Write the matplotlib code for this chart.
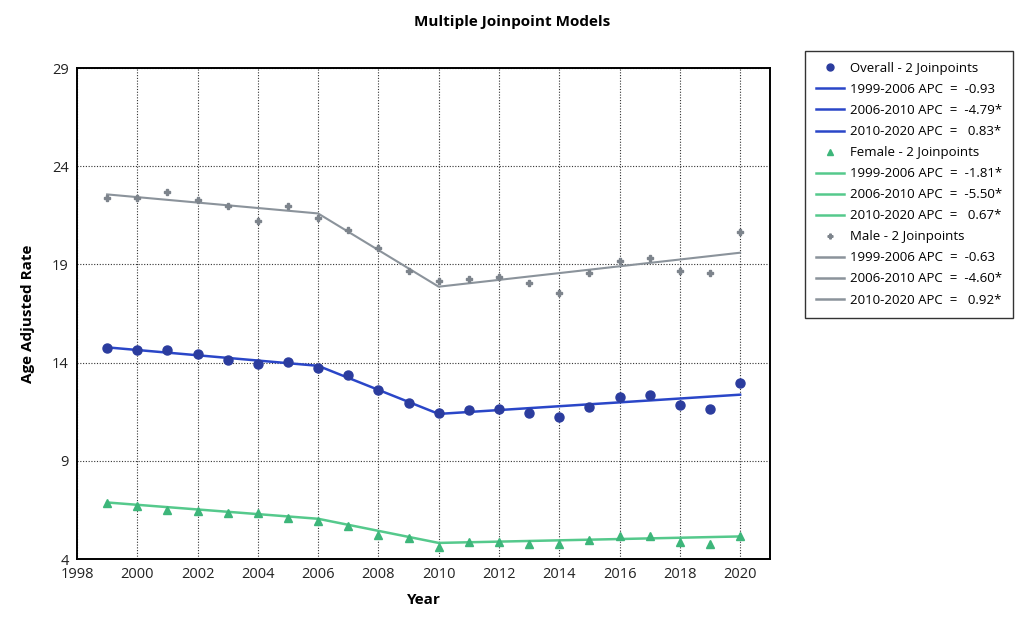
import matplotlib
matplotlib.use("Agg")
import matplotlib.pyplot as plt
from matplotlib.lines import Line2D

plt.rcParams["font.family"] = ["Open Sans", "DejaVu Sans"]

years = list(range(1999, 2021))

overall = [14.75, 14.63, 14.63, 14.43, 14.12, 13.95, 14.04, 13.73, 13.36, 12.63, 11.95,
           11.44, 11.61, 11.63, 11.44, 11.24, 11.73, 12.24, 12.34, 11.83, 11.63, 12.94]
female = [6.86, 6.70, 6.49, 6.46, 6.36, 6.32, 6.07, 5.95, 5.68, 5.22, 5.05,
          4.63, 4.88, 4.85, 4.76, 4.76, 4.97, 5.19, 5.19, 4.88, 4.76, 5.17]
male = [22.38, 22.38, 22.67, 22.26, 21.97, 21.24, 21.99, 21.38, 20.77, 19.85, 18.66,
        18.14, 18.26, 18.34, 18.05, 17.55, 18.56, 19.16, 19.35, 18.66, 18.56, 20.65]

# fitted values at the segment ends (joinpoints 2006 and 2010)
joint_years = [1999, 2006, 2010, 2020]
overall_fit = [14.78, 13.84, 11.39, 12.37]
female_fit = [6.88, 6.05, 4.82, 5.15]
male_fit = [22.57, 21.60, 17.87, 19.60]

segments = ["1999-2006", "2006-2010", "2010-2020"]
overall_apc = ["-0.93", "-4.79*", " 0.83*"]
female_apc = ["-1.81*", "-5.50*", " 0.67*"]
male_apc = ["-0.63", "-4.60*", " 0.92*"]

blue_pt, blue_ln = "#2b3c9e", "#2a46c8"
green_pt, green_ln = "#3db67a", "#55c98c"
gray_pt, gray_ln = "#7d848c", "#8b939b"

fig = plt.figure(figsize=(10.18, 6.19), dpi=100)
ax = fig.add_axes([0.0756, 0.0969, 0.681, 0.793])

ax.plot(joint_years, male_fit, color=gray_ln, lw=1.5, zorder=3)
ax.plot(years, male, ls="none", marker="P", ms=4.5, color=gray_pt, zorder=4)
ax.plot(joint_years, overall_fit, color=blue_ln, lw=1.8, zorder=3)
ax.plot(years, overall, ls="none", marker="o", ms=6.5, color=blue_pt, zorder=4)
ax.plot(joint_years, female_fit, color=green_ln, lw=1.8, zorder=3)
ax.plot(years, female, ls="none", marker="^", ms=6, color=green_pt, zorder=4)

ax.set_xlim(1998, 2021)
ax.set_ylim(4, 29)
ax.set_xticks(range(1998, 2021, 2))
ax.set_yticks([4, 9, 14, 19, 24, 29])
ax.tick_params(length=0, labelsize=10.5, colors="#222222", pad=6)
ax.grid(True, ls=(0, (1, 1.5)), color="#333333", lw=0.8)
for s in ax.spines.values():
    s.set_linewidth(1.4)
    s.set_color("black")

ax.set_xlabel("Year", fontsize=11, fontweight="bold", labelpad=8)
ax.set_ylabel("Age Adjusted Rate", fontsize=11, fontweight="bold", labelpad=12)
fig.suptitle("Multiple Joinpoint Models", x=0.503, y=0.975, fontsize=11, fontweight="bold")

handles, labels = [], []
for name, pc, lc, mk, ms, apc in [
    ("Overall", blue_pt, blue_ln, "o", 5, overall_apc),
    ("Female", green_pt, green_ln, "^", 5, female_apc),
    ("Male", gray_pt, gray_ln, "P", 3.5, male_apc),
]:
    handles.append(Line2D([], [], ls="none", marker=mk, ms=ms, color=pc))
    labels.append(f"{name} - 2 Joinpoints")
    for seg, v in zip(segments, apc):
        handles.append(Line2D([], [], color=lc, lw=1.8))
        labels.append(f"{seg} APC  =  {v}")

leg = fig.legend(handles, labels, loc="upper left", bbox_to_anchor=(0.791, 0.918),
                 fontsize=9.5, frameon=True, fancybox=False, edgecolor="black",
                 handlelength=2.1, handletextpad=0.45, labelspacing=0.61,
                 borderpad=0.85, borderaxespad=0)
leg.get_frame().set_linewidth(1.0)

fig.savefig("out.png", dpi=100)
